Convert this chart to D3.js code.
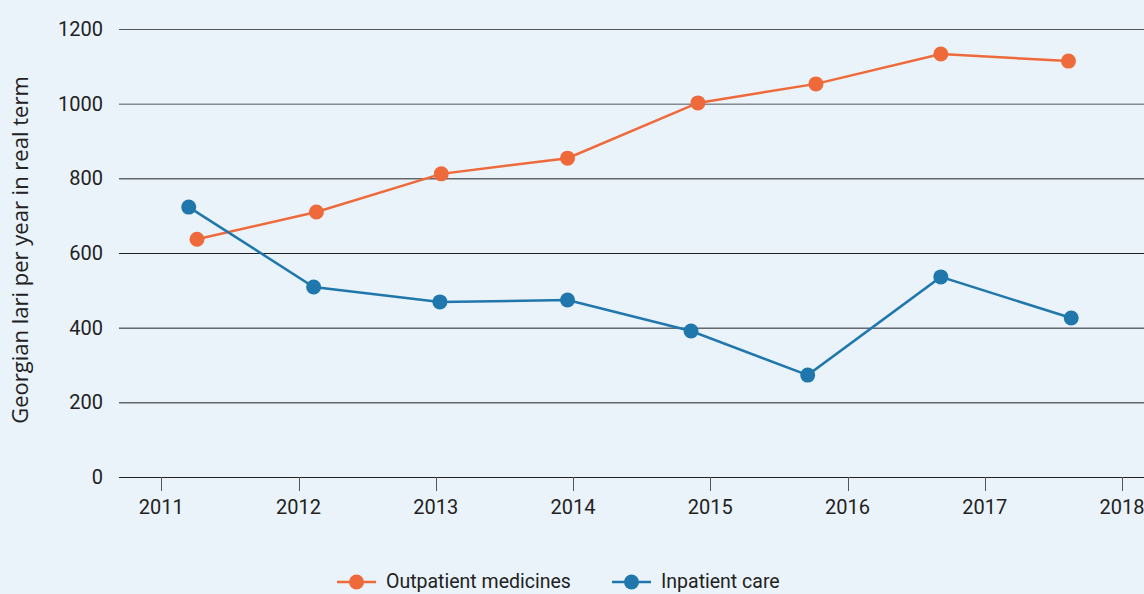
<!DOCTYPE html>
<html>
<head>
<meta charset="utf-8">
<script src="https://cdn.jsdelivr.net/npm/d3@7"></script>
<style>
	body { margin: 0; background: #eaf2fa; }
	svg { display: block; font-family: Roboto, sans-serif; }
</style>
</head>
<body>
<svg id="chart" width="1144" height="594"></svg>
<script>
const yearTicks = [2011, 2012, 2013, 2014, 2015, 2016, 2017, 2018];
const valueTicks = [0, 200, 400, 600, 800, 1000, 1200];

// points sit between the year ticks, so positions are fractional years
const outpatientYears = [2011.26, 2012.13, 2013.04, 2013.96, 2014.91, 2015.77, 2016.68, 2017.61];
const outpatientValues = [637, 710, 812, 854, 1002, 1053, 1133, 1114];

const inpatientYears = [2011.2, 2012.11, 2013.03, 2013.96, 2014.86, 2015.71, 2016.68, 2017.63];
const inpatientValues = [723, 509, 469, 474, 391, 273, 536, 426];

const seriesNames = ['Outpatient medicines', 'Inpatient care'];
const seriesColors = ['#ee6a3b', '#2077ab'];

const svg = d3.select('#chart');
const width = 1144;

const x = d3.scaleLinear().domain([2011, 2018]).range([161.3, 1122]);
const y = d3.scaleLinear().domain([0, 1200]).range([477, 29]);

svg.append('rect').attr('width', width).attr('height', 594).attr('fill', '#eaf2fa');

// horizontal grid
svg.append('g')
	.selectAll('line')
	.data(valueTicks)
	.join('line')
	.attr('x1', 119)
	.attr('x2', width)
	.attr('y1', (d) => y(d) + 0.5)
	.attr('y2', (d) => y(d) + 0.5)
	.attr('stroke', (d) => (d >= 1000 ? '#555' : '#222'))
	.attr('stroke-width', 1);

// y tick labels
svg.append('g')
	.selectAll('text')
	.data(valueTicks)
	.join('text')
	.attr('x', 103)
	.attr('y', (d) => y(d))
	.attr('dy', '0.35em')
	.attr('text-anchor', 'end')
	.attr('fill', '#222')
	.style('font-size', '20px')
	.text((d) => d);

// x axis ticks and labels
const xAxis = svg.append('g');
xAxis.selectAll('line')
	.data(yearTicks)
	.join('line')
	.attr('x1', (d) => Math.round(x(d)) + 0.5)
	.attr('x2', (d) => Math.round(x(d)) + 0.5)
	.attr('y1', y(0))
	.attr('y2', y(0) + 14)
	.attr('stroke', '#555');
xAxis.selectAll('text')
	.data(yearTicks)
	.join('text')
	.attr('x', (d) => x(d))
	.attr('y', 514)
	.attr('text-anchor', 'middle')
	.attr('fill', '#222')
	.style('font-size', '20px')
	.text((d) => d);

svg.append('text')
	.attr('transform', 'translate(28,250) rotate(-90)')
	.attr('text-anchor', 'middle')
	.attr('fill', '#222')
	.style('font-family', '"Open Sans", sans-serif')
	.style('font-size', '22px')
	.text('Georgian lari per year in real term');

const series = [
	{ years: outpatientYears, values: outpatientValues },
	{ years: inpatientYears, values: inpatientValues },
];

const line = d3.line()
	.x((d) => x(d[0]))
	.y((d) => y(d[1]));

series.forEach((s, i) => {
	const pts = s.years.map((yr, j) => [yr, s.values[j]]);
	const g = svg.append('g');
	g.append('path')
		.datum(pts)
		.attr('d', line)
		.attr('fill', 'none')
		.attr('stroke', seriesColors[i])
		.attr('stroke-width', 2.5);
	g.selectAll('circle')
		.data(pts)
		.join('circle')
		.attr('cx', (d) => x(d[0]))
		.attr('cy', (d) => y(d[1]))
		.attr('r', 7.5)
		.attr('fill', seriesColors[i]);
});

// legend
const legendX = [337, 612];
const legend = svg.append('g');
seriesNames.forEach((name, i) => {
	const g = legend.append('g').attr('transform', `translate(${legendX[i]},582)`);
	g.append('line').attr('x1', 0).attr('x2', 39).attr('stroke', seriesColors[i]).attr('stroke-width', 2.5);
	g.append('circle').attr('cx', 19.5).attr('r', 7.5).attr('fill', seriesColors[i]);
	g.append('text')
		.attr('x', 49)
		.attr('dy', '0.33em')
		.attr('fill', '#222')
		.style('font-size', '19.5px')
		.text(name);
});
</script>
</body>
</html>
